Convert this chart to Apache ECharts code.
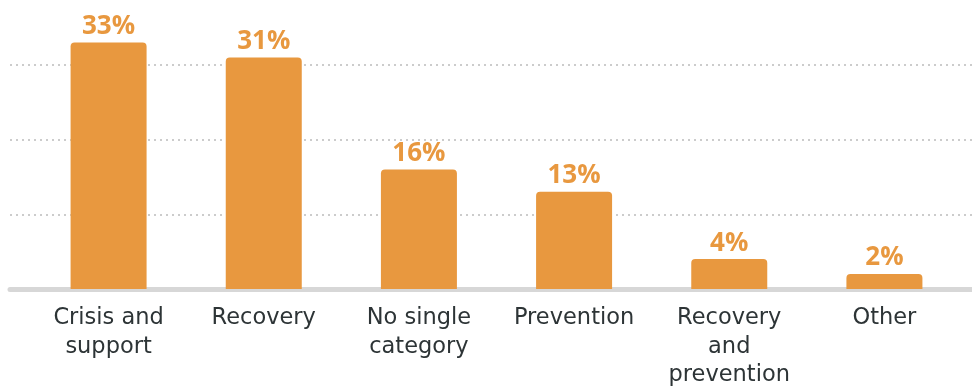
<!DOCTYPE html>
<html>
<head>
<meta charset="utf-8">
<script src="https://cdn.jsdelivr.net/npm/echarts@6/dist/echarts.min.js"></script>
<style>
  html, body { margin: 0; padding: 0; background: #fff; }
  #chart { width: 972px; height: 387px; }
</style>
</head>
<body>
<div id="chart"></div>
<script>
// Share of responses by category (%)
const categories = ['Crisis and\nsupport', 'Recovery', 'No single\ncategory', 'Prevention', 'Recovery\nand\nprevention', 'Other'];
const shares = [33, 31, 16, 13, 4, 2];

const ORANGE = '#E8983F';
const TEXT = '#2d3436';
const CAT_FONT = '"DejaVu Sans", sans-serif';
const VAL_FONT = '"Open Sans", sans-serif';

const chart = echarts.init(document.getElementById('chart'));
chart.setOption({
  animation: false,
  grid: [
    // bars
    { left: 31, right: 10, top: 27.5, bottom: 98, outerBoundsMode: 'none', containLabel: false },
    // full-width gridlines and baseline
    { left: 10, right: 0, top: 27.5, bottom: 98, outerBoundsMode: 'none', containLabel: false }
  ],
  xAxis: [
    {
      type: 'category', gridIndex: 0, data: categories,
      axisLine: { show: false }, axisTick: { show: false },
      axisLabel: { color: TEXT, fontFamily: CAT_FONT, fontSize: 22.5, lineHeight: 28.5, margin: 15, interval: 0 }
    },
    {
      type: 'value', gridIndex: 1, min: 0, max: 1,
      offset: 2.5,
      axisLine: { show: true, lineStyle: { color: '#d7d7d7', width: 5 } },
      axisTick: { show: false }, axisLabel: { show: false }, splitLine: { show: false }
    }
  ],
  yAxis: [
    {
      type: 'value', gridIndex: 0, min: 0, max: 35, interval: 10,
      axisLine: { show: false }, axisTick: { show: false }, axisLabel: { show: false },
      splitLine: { show: false }
    },
    {
      type: 'value', gridIndex: 1, min: 0, max: 35, interval: 10,
      axisLine: { show: false }, axisTick: { show: false }, axisLabel: { show: false },
      splitLine: { show: true, showMinLine: false, showMaxLine: false,
        lineStyle: { color: '#cccccc', width: 2, type: [2, 4] } }
    }
  ],
  series: [{
    type: 'bar', xAxisIndex: 0, yAxisIndex: 0,
    data: shares, barWidth: 76,
    itemStyle: { color: ORANGE, borderRadius: [4, 4, 0, 0] },
    label: {
      show: true, position: 'top', distance: 3,
      formatter: p => p.value + '%',
      color: ORANGE, fontFamily: VAL_FONT, fontWeight: 'bold', fontSize: 26
    }
  }]
});
</script>
</body>
</html>
